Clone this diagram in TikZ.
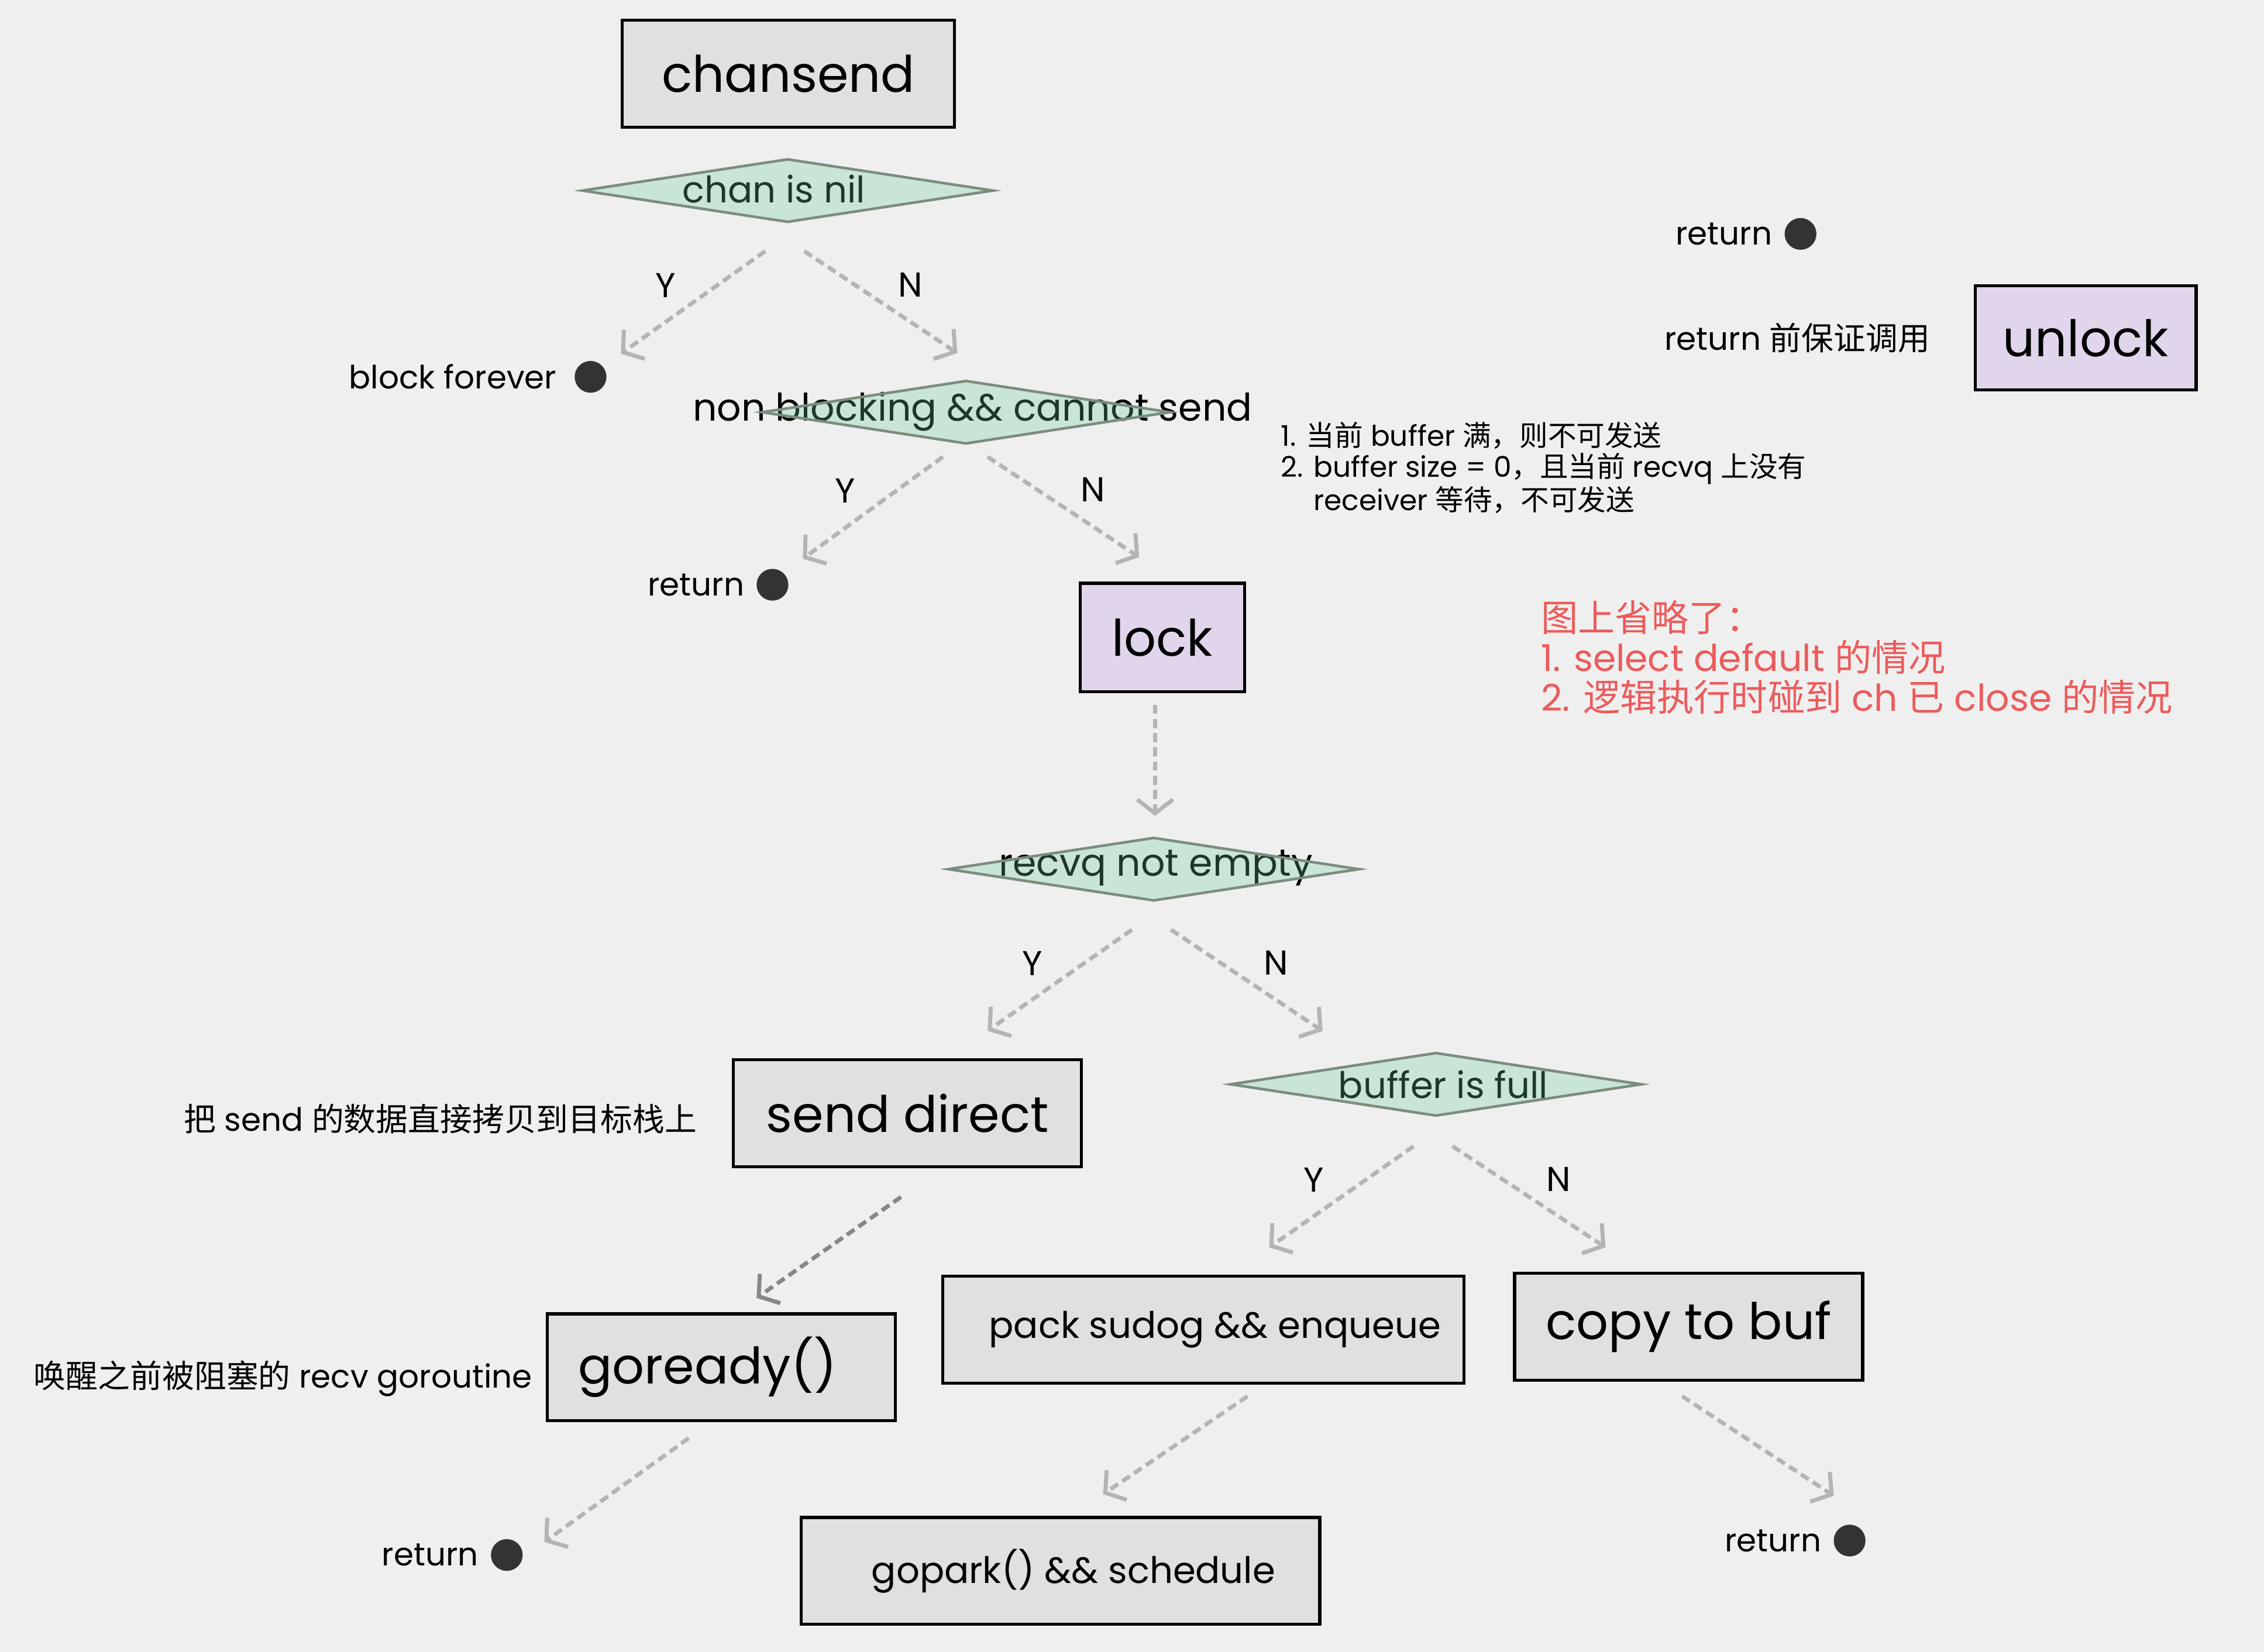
\documentclass[tikz,border=0pt]{standalone}
\usepackage{fontspec}
\setmainfont{Poppins}
\newfontfamily\cjk{Noto Sans CJK SC}
\usetikzlibrary{arrows.meta, positioning, shapes.geometric}
\definecolor{bgcolor}{RGB}{239,239,239}
\definecolor{boxfill}{RGB}{224,224,224}
\definecolor{lockfill}{RGB}{225,213,236}
\definecolor{decfill}{RGB}{106,204,151}
\definecolor{decline}{RGB}{124,140,127}
\definecolor{flowgray}{RGB}{180,180,180}
\definecolor{flowdark}{RGB}{135,135,135}
\definecolor{dotcolor}{RGB}{51,51,51}
\definecolor{notered}{RGB}{236,91,91}
\tikzset{
  flow/.style={-{Straight Barb[length=0.24cm,width=0.62cm]}, line width=2pt,
               flowgray, dash pattern=on 4.5pt off 2.5pt},
  opbox/.style={draw=black, line width=1.5pt, fill=boxfill, inner sep=0,
                minimum width=6.025cm, minimum height=1.85cm,
                font=\fontsize{24.8}{28}\selectfont},
  lockbox/.style={opbox, fill=lockfill},
  midfont/.style={font=\fontsize{18}{21}\selectfont},
  decision/.style={diamond, draw=decline, line width=1.3pt, fill=decfill,
                   fill opacity=0.28, inner sep=0,
                   minimum width=7.125cm, minimum height=1.1cm},
  dectxt/.style={midfont, inner sep=0},
  enddot/.style={circle, fill=dotcolor, minimum size=0.55cm, inner sep=0},
  endlabel/.style={font=\fontsize{15.8}{18}\selectfont, inner sep=0},
  ylab/.style={midway, xshift=-0.475cm, yshift=0.29cm, text=black,
               font=\fontsize{17}{20}\selectfont},
  nlab/.style={midway, xshift=0.51cm, yshift=0.3cm, text=black,
               font=\fontsize{17}{20}\selectfont},
}

\begin{document}
\begin{tikzpicture}[x=0.025cm, y=-0.025cm]
  \fill[bgcolor] (0,0) rectangle (1568,1144);
  \useasboundingbox (0,0) rectangle (1568,1144);

  % main flow
  \node[opbox, minimum width=5.75cm] (chansend) at (546,51) {chansend};
  \node[dectxt] (chantext) at (536,131) {chan is nil};
  \node[decision] (chan) at (545.5,132) {};
  \node[enddot] (bfdot) at (409,261) {};
  \node[endlabel, left=0.3cm of bfdot] (bftext) {block forever};
  \node[dectxt, font=\fontsize{18.7}{21}\selectfont] (nbtext) at (673.5,285)
    {non blocking \&\& cannot send};
  \node[decision, minimum width=7.075cm] (nb) at (669,285.5) {};
  \node[enddot] (r1dot) at (535,405) {};
  \node[endlabel, left=0.2cm of r1dot] (r1text) {return};
  \node[lockbox, minimum width=2.85cm, minimum height=1.875cm]
    (lock) at (805,441.5) {lock};
  \node[dectxt, font=\fontsize{18.7}{21}\selectfont] (recvqtext)
    at (800.5,601) {recvq not empty};
  \node[decision] (recvq) at (799,602) {};

  % recvq not empty: Y
  \node[opbox] (send) at (628.5,771) {send direct};
  \node[endlabel, left=0.6cm of send, yshift=-0.1cm] (sendnote)
    {{\cjk 把} send {\cjk 的数据直接拷贝到目标栈上}};
  \node[opbox] (goready) at (499.5,947) {goready()\hspace*{0.475cm}};
  \node[endlabel, left=0.225cm of goready, yshift=-0.2cm] (readynote)
    {{\cjk 唤醒之前被阻塞的} recv goroutine};
  \node[enddot] (r3dot) at (351,1077) {};
  \node[endlabel, left=0.2cm of r3dot] (r3text) {return};

  % recvq not empty: N
  \node[dectxt] (fulltext) at (999.5,751) {buffer is full};
  \node[decision] (full) at (994.5,751) {};
  \node[opbox, minimum width=9.025cm, midfont] (pack) at (833.5,921)
    {\hspace*{0.4cm}pack sudog \&\& enqueue};
  \node[opbox] (copy) at (1169.5,919) {copy to buf};
  \node[opbox, minimum width=8.975cm, midfont] (gopark) at (734.5,1088)
    {\hspace*{0.45cm}gopark() \&\& schedule};
  \node[enddot] (r4dot) at (1281,1067) {};
  \node[endlabel, left=0.2cm of r4dot] (r4text) {return};

  % legend, top right
  \node[enddot] (legdot) at (1247,162) {};
  \node[endlabel, left=0.2cm of legdot] (legtext) {return};
  \node[lockbox, minimum width=3.825cm, minimum height=1.8cm]
    (unlock) at (1444.5,234) {unlock};
  \node[endlabel, left=0.75cm of unlock] (unlocknote)
    {return {\cjk 前保证调用}};

  % notes
  \node[anchor=west, align=left, inner sep=0,
        font=\fontsize{14}{15}\selectfont] (fullnote) at (887,324)
    {1. {\cjk 当前} buffer {\cjk 满，则不可发送}\\
     2. buffer size = 0{\cjk ，且当前} recvq {\cjk 上没有}\\
     \phantom{2. }receiver {\cjk 等待，不可发送}};
  \node[anchor=west, align=left, inner sep=0, text=notered,
        font=\fontsize{18.2}{19.6}\selectfont] (omitnote) at (1067,455)
    {{\cjk 图上省略了：}\\
     1. select default {\cjk 的情况}\\
     2. {\cjk 逻辑执行时碰到} ch {\cjk 已} close {\cjk 的情况}};

  % connectors
  \draw[flow] ([shift={(-15.5,19)}]chan.south)
    -- ([shift={(21,-16)}]bfdot.center) node[ylab] {Y};
  \draw[flow] ([shift={(11.5,19)}]chan.south)
    -- ([shift={(-6,-18)}]nb.north) node[nlab] {N};
  \draw[flow] ([shift={(-16,8)}]nb.south)
    -- ([shift={(21,-18)}]r1dot.center) node[ylab] {Y};
  \draw[flow] ([shift={(15,8)}]nb.south)
    -- ([shift={(-16,-17)}]lock.north) node[nlab] {N};
  \draw[flow] ([shift={(-5,8)}]lock.south) -- ([shift={(1,-14)}]recvq.north);
  \draw[flow] ([shift={(-15,19)}]recvq.south)
    -- ([shift={(55.5,-19)}]send.north) node[ylab] {Y};
  \draw[flow] ([shift={(12,19)}]recvq.south)
    -- ([shift={(-78.5,-14)}]full.north) node[nlab] {N};
  \draw[flow] ([shift={(-15.5,20)}]full.south)
    -- ([shift={(45.5,-19)}]pack.north) node[ylab] {Y};
  \draw[flow] ([shift={(11.5,20)}]full.south)
    -- ([shift={(-57.5,-17)}]copy.north) node[nlab] {N};
  \draw[flow, flowdark] ([shift={(-4.5,20)}]send.south)
    -- ([shift={(24.5,-10)}]goready.north);
  \draw[flow] ([shift={(-22.5,11)}]goready.south)
    -- ([shift={(26,-9)}]r3dot.center);
  \draw[flow] ([shift={(30.5,8)}]pack.south)
    -- ([shift={(29.5,-15)}]gopark.north);
  \draw[flow] ([shift={(-4.5,10)}]copy.south)
    -- ([shift={(-11,-31)}]r4dot.center);
\end{tikzpicture}
\end{document}
